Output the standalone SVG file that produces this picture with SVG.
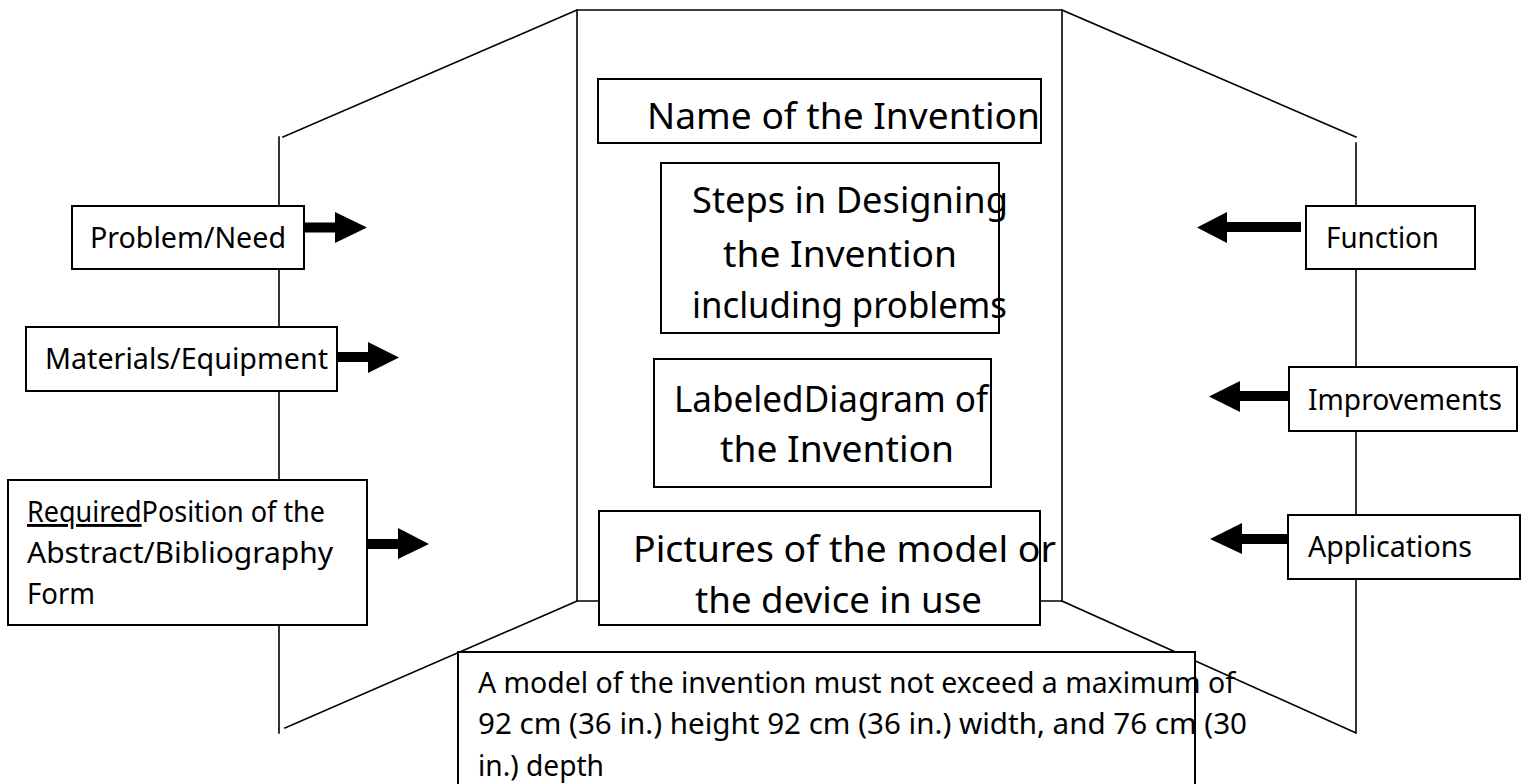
<svg xmlns="http://www.w3.org/2000/svg" width="1526" height="784" viewBox="0 0 1526 784">
<style>
.panel{fill:none;stroke:#000;stroke-width:1.6;stroke-linecap:square}
.box{fill:#fff;stroke:#000;stroke-width:2}
.big{font-family:"Comic Sans MS","Noto Sans",sans-serif;font-size:36px;fill:#000}
.sm{font-family:"Comic Sans MS","Noto Sans",sans-serif;font-size:29px;fill:#000}
.arrow{fill:#000;stroke:none}
</style>
<rect width="1526" height="784" fill="#fff"/>
<g id="board">
<path class="panel" d="M577,10 H1062 M577,10 V601 M1062,10 V601 M577,601 H599 M1040,601 H1062"/>
<path class="panel" d="M283,137 L577,10 M279,137 V733 M285,728 L577,601"/>
<path class="panel" d="M1062,10 L1356,137 M1356,143 V733 M1062,601 L1356,733"/>
</g>
<g id="connectors">
<polygon class="arrow" points="304,222.5 335,222.5 335,212 367,227.5 335,243 335,232.5 304,232.5"/>
<polygon class="arrow" points="337,352 368,352 368,342 399,357.5 368,373 368,362 337,362"/>
<polygon class="arrow" points="367,539 398,539 398,528 429,544 398,559 398,549 367,549"/>
<polygon class="arrow" points="1301,222 1227,222 1227,212 1197,227.5 1227,243 1227,232 1301,232"/>
<polygon class="arrow" points="1289,391 1240,391 1240,381 1209,396.5 1240,412 1240,401 1289,401"/>
<polygon class="arrow" points="1288,534 1242,534 1242,523 1210,539 1242,554 1242,544 1288,544"/>
</g>
<g id="name">
<rect class="box" x="598" y="79" width="443" height="64"/>
<text class="big" x="647" y="129" textLength="393" lengthAdjust="spacingAndGlyphs">Name of the Invention</text>
</g>
<g id="steps">
<rect class="box" x="661" y="163" width="338" height="170"/>
<text class="big" x="692" y="213" textLength="316" lengthAdjust="spacingAndGlyphs">Steps in Designing</text>
<text class="big" x="723" y="267" textLength="234" lengthAdjust="spacingAndGlyphs">the Invention</text>
<text class="big" x="692" y="318" textLength="315" lengthAdjust="spacingAndGlyphs">including problems</text>
</g>
<g id="labeled">
<rect class="box" x="654" y="359" width="337" height="128"/>
<text class="big" x="674" y="412" textLength="314" lengthAdjust="spacingAndGlyphs">LabeledDiagram of</text>
<text class="big" x="720" y="462" textLength="234" lengthAdjust="spacingAndGlyphs">the Invention</text>
</g>
<g id="pictures">
<rect class="box" x="599" y="511" width="441" height="114"/>
<text class="big" x="633" y="562" textLength="423" lengthAdjust="spacingAndGlyphs">Pictures of the model or</text>
<text class="big" x="695" y="613" textLength="287" lengthAdjust="spacingAndGlyphs">the device in use</text>
</g>
<g id="problem">
<rect class="box" x="72" y="206" width="232" height="63"/>
<text class="sm" x="90" y="248" textLength="196" lengthAdjust="spacingAndGlyphs">Problem/Need</text>
</g>
<g id="materials">
<rect class="box" x="26" y="327" width="311" height="64"/>
<text class="sm" x="45" y="369" textLength="283" lengthAdjust="spacingAndGlyphs">Materials/Equipment</text>
</g>
<g id="required">
<rect class="box" x="8" y="480" width="359" height="145"/>
<text class="sm" x="27" y="522" textLength="298" lengthAdjust="spacingAndGlyphs"><tspan text-decoration="underline">Required</tspan>Position of the</text>
<text class="sm" x="27" y="563" textLength="306" lengthAdjust="spacingAndGlyphs">Abstract/Bibliography</text>
<text class="sm" x="27" y="604" textLength="68" lengthAdjust="spacingAndGlyphs">Form</text>
</g>
<g id="function">
<rect class="box" x="1306" y="206" width="169" height="63"/>
<text class="sm" x="1326" y="248" textLength="113" lengthAdjust="spacingAndGlyphs">Function</text>
</g>
<g id="improvements">
<rect class="box" x="1289" y="367" width="228" height="64"/>
<text class="sm" x="1308" y="410" textLength="194" lengthAdjust="spacingAndGlyphs">Improvements</text>
</g>
<g id="applications">
<rect class="box" x="1288" y="515" width="232" height="64"/>
<text class="sm" x="1308" y="557" textLength="164" lengthAdjust="spacingAndGlyphs">Applications</text>
</g>
<g id="model">
<rect class="box" x="458" y="652" width="737" height="150"/>
<text class="sm" x="478" y="693" textLength="757" lengthAdjust="spacingAndGlyphs">A model of the invention must not exceed a maximum of</text>
<text class="sm" x="478" y="734" textLength="769" lengthAdjust="spacingAndGlyphs">92 cm (36 in.) height 92 cm (36 in.) width, and 76 cm (30</text>
<text class="sm" x="478" y="776" textLength="126" lengthAdjust="spacingAndGlyphs">in.) depth</text>
</g>
</svg>
